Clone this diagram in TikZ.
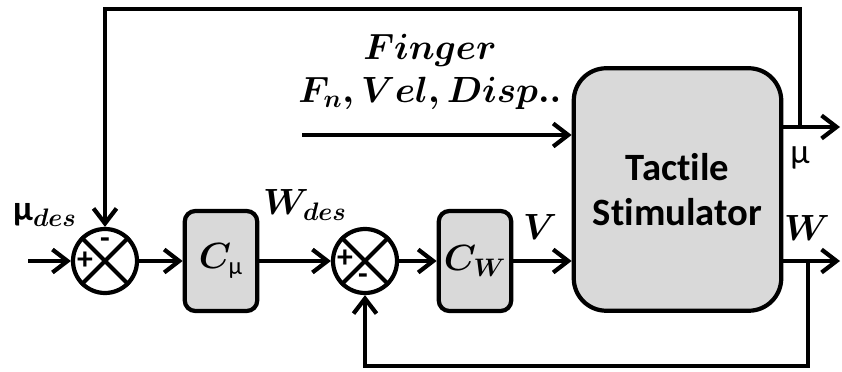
\documentclass[tikz,border=0pt]{standalone}
\usepackage{fontspec}
\setsansfont[Ligatures=NoCommon]{Carlito}
\usetikzlibrary{arrows.meta}

\newcommand{\mug}{{\sffamily\symbol{"03BC}}}

\begin{document}
\begin{tikzpicture}[
        box/.style={rectangle, draw, line width=2.4pt, fill=black!15, minimum width=1.45cm, minimum height=2cm, rounded corners=6pt, inner sep=0pt},
        sum/.style={circle, draw, line width=2.4pt, minimum size=1.28cm, inner sep=0pt},
        arrow/.style={-{Straight Barb[length=0.3cm, width=0.46cm]}, line width=2.4pt},
        line/.style={line width=2.4pt},
        sig/.style={font=\fontsize{20}{24}\selectfont\boldmath, inner sep=0pt},
        sign/.style={font=\sffamily\bfseries\fontsize{18}{18}\selectfont, inner sep=0pt}
    ]
    \useasboundingbox (0,0) rectangle (16.84,7.42);

    % Blocks
    \node[sum] (s1) at (2.1, 2.2) {};
    \node[box, sig] (cmu) at (4.42, 2.2) {$C_{\mbox{\fontsize{14}{14}\selectfont\mug}}$};
    \node[sum] (s2) at (7.3, 2.2) {};
    \node[box, sig] (cw) at (9.5, 2.2) {$C_W$};
    \node[box, minimum width=4.15cm, minimum height=4.85cm, rounded corners=0.65cm, align=center,
          font=\sffamily\bfseries\fontsize{22}{26}\selectfont] (plant) at (13.55, 3.63) {Tactile\\Stimulator};

    \foreach \s in {s1, s2}
        \draw[line] (\s.north west) -- (\s.south east) (\s.north east) -- (\s.south west);

    % Signs
    \node[sign] (p1) at (1.7, 2.2) {+};
    \node[sign] (m1) at (2.1, 2.56) {-};
    \node[sign] (p2) at (6.9, 2.24) {+};
    \node[sign] (m2) at (7.26, 1.84) {-};

    % Labels
    \node[sig] (mudes) at (0.9, 3.12) {{\bfseries\mug}$_{des}$};
    \node[sig] (wdes) at (6.1, 3.32) {$W_{des}$};
    \node[sig] (v) at (10.8, 2.88) {$V$};
    \node[sig, align=center] (finger) at (8.6, 5.98) {$Finger$\\$F_n, Vel, Disp..$};
    \node[font=\fontsize{20}{24}\selectfont, inner sep=0pt] (mu) at (16.0, 4.26) {\mug};
    \node[sig] (w) at (16.14, 2.86) {$W$};

    % Forward path
    \coordinate (in) at (0.56, 2.2);
    \coordinate (fin) at (6.04, 4.72);
    \draw[arrow] (in) -- (s1);
    \draw[arrow] (s1) -- (cmu);
    \draw[arrow] (cmu) -- (s2);
    \draw[arrow] (s2) -- (cw);
    \draw[arrow] (cw.east) -- (cw.east -| plant.west);
    \draw[arrow] (fin) -- (fin -| plant.west);

    % Outputs and feedback
    \coordinate (muout) at (16.8, 4.88);
    \coordinate (wout) at (16.8, 2.2);
    \coordinate (top) at (16.0, 7.24);
    \coordinate (bot) at (16.16, 0.1);
    \draw[arrow] (muout -| plant.east) -- (muout);
    \draw[arrow] (wout -| plant.east) -- (wout);
    \draw[arrow] (top |- muout) -- (top) -| (s1);
    \draw[arrow] (bot |- wout) -- (bot) -| (s2);

\end{tikzpicture}
\end{document}
